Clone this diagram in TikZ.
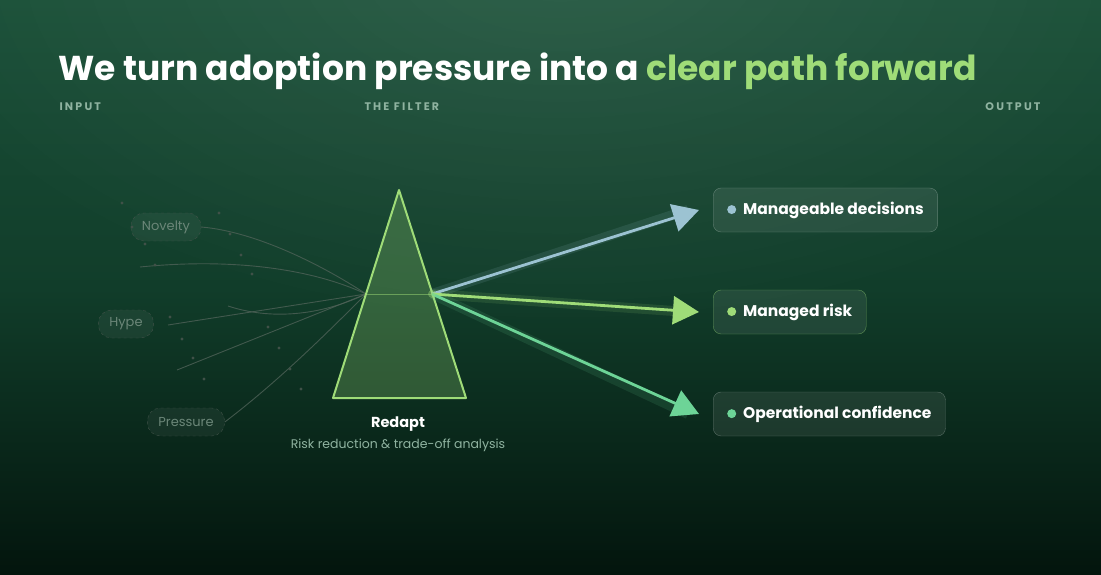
\documentclass[tikz,border=0pt]{standalone}
\usepackage{fontspec}
\setmainfont{Poppins}
\usetikzlibrary{arrows.meta,fadings}
\tikzfading[name=glowfade, inner color=transparent!0, outer color=transparent!100]
\definecolor{lime}{HTML}{9FDC78}
\definecolor{sky}{HTML}{9CC3D2}
\definecolor{mint}{HTML}{6DD497}
\definecolor{lbl}{HTML}{8FB3A0}
\definecolor{bgtop}{HTML}{1A5038}
\definecolor{bgmid}{HTML}{113D2A}
\definecolor{bgbot}{HTML}{03150D}
\begin{document}
\begin{tikzpicture}[x=1pt,y=-1pt,
  inp/.style={draw=lbl!45!black,dashed,rounded corners=13pt,fill=white,fill opacity=0.05,text opacity=1,text=lbl!75!black,font=\fontsize{13}{13}\selectfont,minimum height=28pt,inner xsep=11pt},
  outb/.style={draw=white,draw opacity=0.28,fill=white,fill opacity=0.08,text opacity=1,rounded corners=8pt,minimum height=44pt,text=white,font=\bfseries\fontsize{15.5}{15}\selectfont,inner xsep=14pt},
  ray/.style={draw=lbl!55!black,line width=0.9pt,opacity=0.8},
  hdr/.style={text=lbl,font=\bfseries\fontsize{11}{10}\selectfont,anchor=base west},
  dot/.style={circle,fill=lbl!45!black,inner sep=1.2pt},
  arr/.style={line width=2.8pt,-{Triangle[length=26pt,width=28pt]}}]
\useasboundingbox (0,0) rectangle (1101,575);
\shade[top color=bgtop,bottom color=bgbot,middle color=bgmid] (0,0) rectangle (1101,575);
\fill[white,opacity=0.09,path fading=glowfade] (560,-40) ellipse (700 and 380);
% title
\node[anchor=base west,text=white,font=\bfseries\fontsize{34.5}{37}\selectfont,inner sep=0] (title) at (58,81) {We turn adoption pressure into a \textcolor{lime}{clear path forward}};
\node[hdr] (h1) at (56,111) {\addfontfeature{LetterSpace=20}INPUT};
\node[hdr] (h2) at (361,111) {\addfontfeature{LetterSpace=20}THE FILTER};
\node[hdr,anchor=base east] (h3) at (1044,111) {\addfontfeature{LetterSpace=20}OUTPUT};
% inputs
\node[inp] (nov) at (166,227) {Novelty};
\node[inp] (hype) at (126,324) {Hype};
\node[inp] (pre) at (186,422) {Pressure};
\coordinate (F) at (366,294);
\coordinate (E) at (432,294);
\coordinate (a1) at (140,267);
\coordinate (a2) at (228,306);
\coordinate (a3) at (168,325);
\coordinate (a4) at (177,370);
\draw[ray] (nov.east) .. controls (260,232) and (330,270) .. (F);
\draw[ray] (a1) .. controls (230,258) and (310,268) .. (F);
\draw[ray] (a2) .. controls (270,320) and (320,316) .. (F);
\draw[ray] (a3) -- (F);
\draw[ray] (a4) -- (F);
\draw[ray] (pre.east) .. controls (280,380) and (330,330) .. (F);
\foreach \x/\y [count=\i] in {122/203,219/213,230/234,145/244,155/265,241/255,252/274,170/317,182/339,268/327,193/358,279/348,204/379,290/369,301/389,132/227}
  \node[dot] (d\i) at (\x,\y) {};
% prism
\coordinate (pt) at (399,190);
\coordinate (pl) at (333,398);
\coordinate (pr) at (466,398);
\fill[lime,opacity=0.25] (pt) -- (pr) -- (pl) -- cycle;
\draw[lime,line width=0.8pt,opacity=0.5] (F) -- (E);
\draw[lime,line width=2pt,line join=round] (pt) -- (pr) -- (pl) -- cycle;
\node[text=white,font=\bfseries\fontsize{14.5}{14}\selectfont] (red) at (398,424) {Redapt};
\node[text=lbl,font=\fontsize{12.5}{12}\selectfont] (sub) at (398,445) {Risk reduction \& trade-off analysis};
% outputs
\node[outb,anchor=west] (o1) at (713,210) {\tikz\fill[sky] (0,0) circle (4.5pt);\hspace{7pt}Manageable decisions};
\node[outb,anchor=west,draw=lime,draw opacity=0.5] (o2) at (713,312) {\tikz\fill[lime] (0,0) circle (4.5pt);\hspace{7pt}Managed risk};
\node[outb,anchor=west] (o3) at (713,414) {\tikz\fill[mint] (0,0) circle (4.5pt);\hspace{7pt}Operational confidence};
\draw[sky,line width=10pt,opacity=0.12] (E) -- ([xshift=-25pt]o1.west);
\draw[lime,line width=10pt,opacity=0.12] (E) -- ([xshift=-25pt]o2.west);
\draw[mint,line width=10pt,opacity=0.12] (E) -- ([xshift=-25pt]o3.west);
\draw[arr,sky] (E) -- ([xshift=-14pt]o1.west);
\draw[arr,lime] (E) -- ([xshift=-14pt]o2.west);
\draw[arr,mint] (E) -- ([xshift=-14pt]o3.west);
\fill[lime,opacity=0.4] (E) circle (4pt);
\end{tikzpicture}
\end{document}
